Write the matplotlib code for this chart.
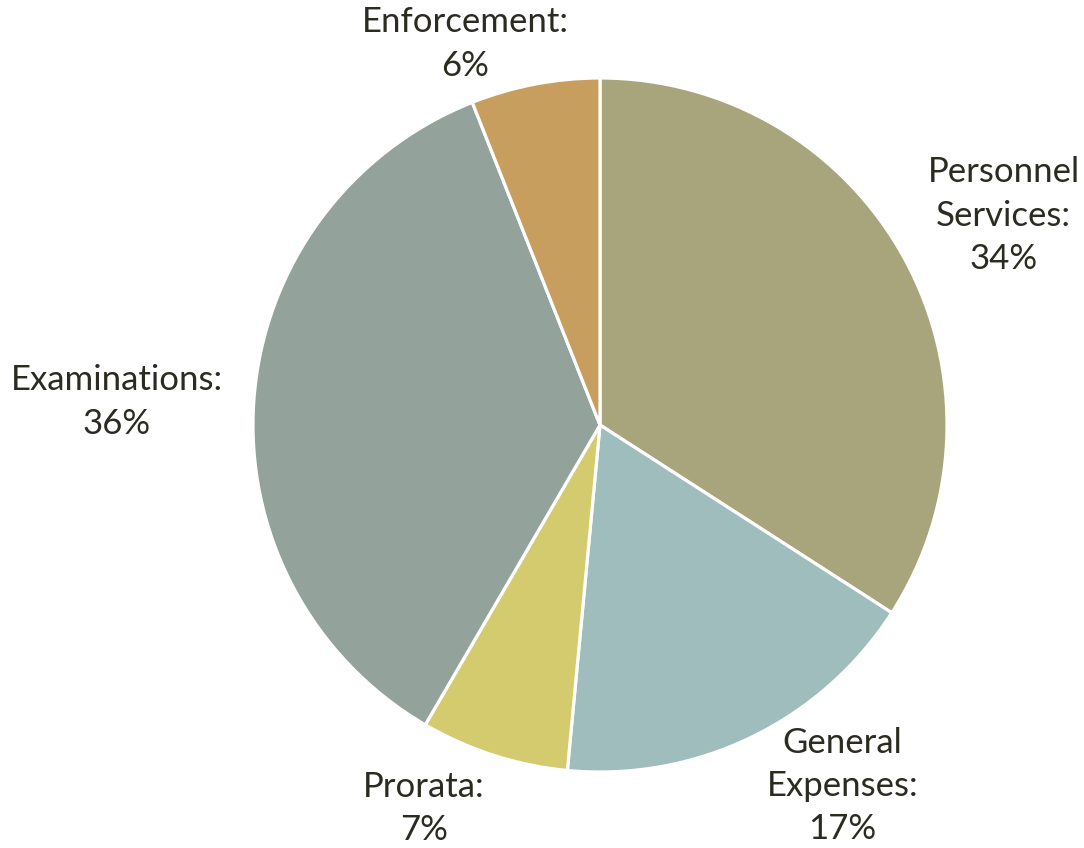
import matplotlib
matplotlib.use("Agg")
import matplotlib.pyplot as plt
import numpy as np

categories = ["Personnel\nServices", "General\nExpenses", "Prorata", "Examinations", "Enforcement"]
values = [34.1, 17.4, 6.9, 35.6, 6.0]
pct_labels = ["34%", "17%", "7%", "36%", "6%"]
colors = ["#A8A57C", "#9EBDBC", "#D3CB6E", "#93A29B", "#C79E5E"]

# label placement: (angle offset in degrees from wedge mid-angle, radius factor)
label_place = [(-1.2, 1.31), (7.95, 1.254), (-6.8, 1.217), (1.6, 1.394), (8.7, 1.165)]

W, H = 1084, 848
cx, cy, R = 600, 425, 347
fig = plt.figure(figsize=(W / 100, H / 100), dpi=100)
ax = fig.add_axes([0, 0, 1, 1])
ax.axis("off")

wedges, _ = ax.pie(values, colors=colors, startangle=90, counterclock=False,
                   radius=1.0, center=(0, 0),
                   wedgeprops=dict(edgecolor="white", linewidth=2.3))
ax.set_xlim(-cx / R, (W - cx) / R)
ax.set_ylim(-(H - cy) / R, cy / R)

for w, cat, pl, (dang, rf) in zip(wedges, categories, pct_labels, label_place):
    mid = np.deg2rad((w.theta1 + w.theta2) / 2 + dang)
    x, y = rf * np.cos(mid), rf * np.sin(mid)
    ax.text(x, y, f"{cat}:\n{pl}", ha="center", va="center", fontsize=25,
            family="Lato", color="#2B2B22", linespacing=1.43)

fig.savefig("out.png", dpi=100)
